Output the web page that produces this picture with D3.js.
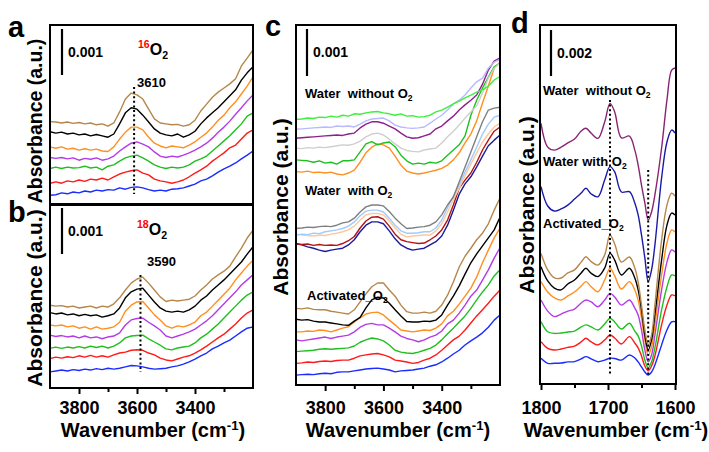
<!DOCTYPE html>
<html><head><meta charset="utf-8">
<script src="https://cdn.jsdelivr.net/npm/d3@7"></script>
<style>body{margin:0;background:#fff} svg{display:block} text{font-family:"Liberation Sans",Arial,Helvetica,sans-serif;font-weight:bold}</style>
</head><body><svg id="fig" width="709" height="452"></svg>
<script>
// ---------- DATA (absorbance in units of 1e-4; scale bars = 0.001 / 0.002) ----------
const wnOH = [3900,3880,3860,3840,3820,3800,3780,3760,3740,3720,3700,3680,3660,3640,3620,3600,3580,3560,3540,3520,3500,3480,3460,3440,3420,3400,3380,3360,3340,3320,3300,3280,3260,3240,3220,3200];
const wnD = [1800,1790,1780,1770,1760,1750,1740,1733,1725,1715,1705,1697,1690,1680,1668,1660,1655,1650,1645,1640,1635,1630,1620,1612,1605,1600];
const ticksOHMajor = [3800,3600,3400];
const ticksOHMinor = [3700,3500,3300];
const ticksDMajor = [1800,1700,1600];
const ticksDMinor = [1750,1650];

// panel a (16O2)
const a_brown  = [17.7,17.6,17.4,17.6,17.3,17.5,17.2,17.4,17.0,17.2,16.7,17.4,19.8,22.6,23.9,23.5,22.6,20.4,18.3,17.4,17.2,17.0,17.1,16.7,17.0,18.0,20.0,21.5,23.0,24.1,25.0,25.9,27.0,29.8,31.5,33.3];
const a_black  = [15.5,15.2,15.4,15.0,15.2,14.8,15.0,14.6,14.9,14.6,14.3,15.0,17.2,19.6,20.7,20.4,19.1,17.6,16.1,15.2,14.8,14.6,15.0,14.3,14.8,15.6,17.2,18.5,19.6,20.7,22.0,23.3,24.6,26.7,28.3,29.6];
const a_orange = [12.2,11.9,12.2,11.7,11.9,11.5,11.8,11.5,11.7,11.3,11.2,12.2,13.9,15.4,16.5,16.5,15.9,14.3,13.0,12.4,12.0,12.4,12.2,12.0,12.6,13.3,14.3,15.2,16.5,18.0,19.1,20.7,22.0,23.7,25.4,27.4];
const a_purple = [9.9,9.7,9.9,9.6,9.8,9.3,9.7,9.5,9.8,9.3,9.6,10.2,11.3,12.2,13.0,13.3,12.8,12.2,11.1,10.2,9.9,10.2,10.0,10.4,10.9,11.5,12.2,13.0,14.1,15.4,16.5,17.8,19.3,20.7,22.2,23.5];
const a_green  = [7.5,7.8,7.5,7.8,7.6,7.7,8.0,7.6,7.8,7.2,8.0,8.3,9.1,9.8,10.2,10.4,9.8,9.1,8.3,7.8,7.5,7.8,7.6,7.8,8.3,9.1,9.6,10.2,11.3,12.4,13.5,14.6,15.9,17.2,18.9,19.6];
const a_red    = [4.3,4.6,4.3,4.8,4.6,5.0,4.7,5.2,5.0,5.4,5.0,5.7,6.3,6.7,7.0,7.2,6.5,6.1,5.2,4.8,4.6,4.3,4.6,5.0,5.7,6.5,7.2,8.0,9.1,10.0,10.9,12.0,12.6,13.9,15.2,15.9];
const a_blue   = [1.7,1.8,2.2,2.0,2.4,2.2,2.6,2.4,2.8,2.6,2.9,2.8,3.3,3.0,3.4,3.5,3.3,2.9,2.6,2.8,2.6,3.0,3.1,3.3,3.7,4.1,4.8,5.2,5.9,6.7,7.4,8.0,8.7,9.6,10.4,11.3];
// panel b (18O2)
const b_brown  = [18.0,17.8,17.9,17.6,17.8,17.4,17.6,17.8,17.4,17.8,17.6,18.3,19.6,21.3,22.8,23.7,24.1,22.8,21.3,19.8,18.8,19.1,18.9,19.1,19.3,20.0,21.3,22.4,23.7,24.6,25.4,26.5,28.5,30.4,32.6,34.3];
const b_black  = [16.4,16.1,16.3,15.9,16.1,15.7,16.0,15.7,15.9,15.4,15.7,16.1,17.4,19.6,20.9,21.5,21.7,20.2,18.7,17.4,16.7,16.5,16.7,16.5,17.0,17.8,19.1,20.0,21.3,22.4,23.5,24.8,26.1,27.4,29.1,30.7];
const b_orange = [13.7,13.5,13.7,13.3,13.5,13.0,13.3,12.8,13.3,12.8,13.0,13.3,14.3,16.7,18.0,18.7,18.8,17.4,15.9,14.8,13.5,13.0,13.5,13.3,13.7,14.3,15.7,16.5,17.8,19.1,20.4,21.7,23.5,25.0,26.5,27.8];
const b_purple = [11.5,11.2,11.4,11.1,11.3,10.9,11.3,10.9,11.1,10.7,11.1,11.3,12.0,13.7,14.8,15.1,15.2,14.3,13.5,12.6,11.3,10.9,11.3,11.7,12.2,12.8,13.7,14.6,15.7,17.0,18.3,19.6,20.9,22.4,23.5,24.6];
const b_green  = [8.6,8.9,8.6,8.9,8.7,9.0,8.7,9.1,8.8,9.1,8.7,9.1,9.8,10.9,11.3,11.4,11.5,10.7,10.0,9.3,8.5,8.3,8.7,8.9,9.1,9.8,10.9,11.7,12.8,13.9,15.2,16.5,17.8,19.1,20.2,20.9];
const b_red    = [6.4,6.7,6.5,6.8,6.6,7.0,6.7,7.1,6.7,7.0,6.7,7.2,7.6,7.8,8.2,8.3,8.2,7.6,7.2,6.5,6.1,5.9,6.3,6.7,7.0,7.6,8.3,9.1,10.0,10.9,11.7,12.8,13.9,15.2,16.3,17.0];
const b_blue   = [3.5,3.7,3.9,3.7,4.0,3.8,4.1,3.9,4.2,4.0,4.3,4.1,4.3,4.6,4.9,4.8,4.6,4.3,4.1,4.2,4.3,4.6,4.8,5.2,5.7,6.3,7.0,7.6,8.5,9.1,9.8,10.4,11.3,12.2,13.0,13.3];
// panel c: water without O2
const c_lime     = [56.5,56.6,56.8,56.7,57.0,56.9,57.2,57.0,57.4,57.2,57.7,57.6,57.9,58.1,58.2,57.9,57.7,57.4,57.7,57.2,57.3,57.0,57.1,57.4,58.1,58.5,59.1,59.8,60.4,61.1,61.7,62.3,62.8,63.6,64.9,65.6];
const c_lavender = [54.4,54.5,54.6,54.7,54.8,54.9,54.8,55.1,55.0,55.1,54.9,55.5,56.2,56.6,56.7,56.8,56.2,55.3,54.9,54.7,54.6,54.7,54.9,55.7,56.6,57.4,58.5,59.8,60.6,61.7,63.2,64.5,65.3,67.4,68.7,69.3];
const c_purple   = [52.5,52.6,52.7,52.8,52.9,53.0,53.1,53.2,53.1,53.4,53.6,54.7,55.5,56.0,56.0,55.7,55.1,54.5,53.6,52.8,52.5,52.6,53.0,53.4,54.5,55.1,56.2,57.2,58.5,59.6,60.6,61.7,64.0,67.0,68.9,69.6];
const c_lgray    = [50.4,50.3,50.5,50.4,50.6,50.5,50.7,50.9,51.1,51.0,51.3,51.9,52.8,53.4,53.6,53.2,52.3,51.3,50.4,49.9,49.7,49.6,50.0,50.2,50.4,51.5,52.8,54.0,55.3,56.8,58.1,59.4,62.1,65.3,67.4,68.5];
const c_green    = [47.9,47.8,47.7,47.4,47.7,47.2,47.4,47.0,47.7,47.7,47.9,49.6,51.3,51.8,51.1,51.5,51.7,50.7,48.9,47.7,47.0,47.2,47.0,47.4,47.2,47.7,48.9,50.0,51.1,53.0,57.4,60.6,63.2,65.5,67.7,68.5];
const c_orange   = [45.4,45.3,45.5,45.2,45.3,45.1,45.3,44.9,44.7,45.1,45.7,47.4,49.4,50.6,51.3,51.1,50.4,48.7,46.8,45.5,45.1,44.9,45.1,45.4,45.7,46.1,46.8,47.9,49.4,51.5,53.4,56.2,60.0,63.6,67.4,68.7];
// panel c: water with O2
const c_dgray = [33.3,33.4,33.6,33.5,33.7,33.8,33.7,34.0,34.5,34.7,35.5,36.8,37.9,38.3,38.3,38.1,36.9,35.5,34.3,33.3,33.4,33.6,33.7,34.0,34.7,36.2,38.3,40.0,43.2,46.4,49.6,52.8,56.0,58.5,58.9,59.1];
const c_lblue = [31.9,32.1,32.0,32.3,32.2,32.6,32.8,33.0,33.3,33.8,34.7,36.0,37.0,37.2,37.2,36.8,35.5,34.0,32.8,32.3,32.3,32.4,32.6,32.6,33.4,35.1,37.7,40.2,42.6,45.3,47.9,50.6,53.4,55.5,57.0,57.4];
const c_peach = [32.1,31.9,31.8,31.7,31.9,31.8,32.1,32.3,32.6,33.0,33.8,35.1,36.2,36.5,36.5,36.2,34.9,33.4,32.1,31.5,31.7,31.8,31.9,31.9,32.8,34.3,36.8,39.4,41.9,44.5,47.0,49.4,51.7,53.4,54.9,55.7];
const c_dred  = [30.0,29.9,30.0,29.7,29.9,29.7,29.8,29.7,30.1,30.7,31.6,33.4,34.9,35.7,35.8,35.3,33.8,32.1,30.9,30.5,30.3,30.1,30.2,30.9,31.7,33.0,35.1,38.3,41.9,43.6,45.1,47.4,50.0,52.1,54.0,54.9];
const c_navy  = [30.1,29.8,29.4,29.1,28.7,28.4,28.7,28.9,29.1,29.8,30.9,32.6,34.0,34.7,34.7,34.3,32.8,31.1,29.8,29.1,28.7,28.9,29.1,29.8,30.5,31.7,34.0,37.2,40.6,42.8,44.3,46.4,48.7,50.9,52.1,53.2];
// panel c: activated O2
const c_brown  = [16.3,16.2,16.4,16.1,16.0,16.0,15.7,15.5,15.3,15.1,16.0,17.7,19.4,20.9,21.7,21.7,20.2,18.9,17.0,15.6,15.3,15.3,15.5,15.3,15.7,17.0,19.1,21.9,25.1,27.4,29.1,30.9,32.3,34.3,37.2,39.8];
const c_black  = [14.0,13.8,13.9,13.6,13.4,13.4,13.2,13.0,12.8,12.7,13.6,14.4,16.4,18.1,18.7,18.5,17.4,16.0,14.7,13.5,13.4,13.4,13.6,13.5,13.8,14.9,17.0,18.9,21.1,23.6,26.0,27.9,29.6,31.3,33.0,35.7];
const c_orange2= [11.3,11.3,11.5,11.4,11.7,11.6,11.3,11.7,12.1,12.4,13.4,14.3,15.1,15.4,15.5,14.9,13.8,12.8,11.7,11.5,11.3,11.5,11.7,11.6,12.1,13.0,14.7,15.7,17.2,18.9,20.6,23.0,26.0,28.7,31.3,33.4];
const c_purple2= [9.6,9.4,9.6,9.8,10.0,10.2,9.9,10.2,10.4,10.6,11.3,12.3,12.9,13.1,12.8,12.8,12.1,11.3,10.4,9.9,9.6,9.2,9.6,10.2,10.6,11.5,13.0,13.8,15.3,17.0,18.9,20.2,22.3,24.5,27.0,29.2];
const c_green2 = [7.1,7.2,7.3,7.4,7.6,7.7,7.6,7.7,7.8,7.9,8.3,9.1,9.6,10.0,9.8,9.4,8.5,7.4,7.0,6.8,6.7,7.0,7.4,7.8,8.5,9.6,10.9,12.1,13.4,14.7,16.3,18.1,19.8,21.3,23.2,24.5];
const c_red    = [4.6,4.7,4.9,4.8,5.0,5.1,5.0,5.2,5.3,5.3,5.7,6.2,6.4,6.6,6.7,6.4,6.0,5.3,5.1,4.9,4.6,4.8,5.3,5.7,6.4,7.4,8.5,9.6,10.4,11.7,13.2,14.7,16.0,17.4,18.9,20.2];
const c_blue   = [2.1,2.2,2.3,2.2,2.4,2.5,2.4,2.7,2.8,2.8,3.0,3.2,3.4,3.5,3.6,3.4,3.2,2.8,3.0,3.1,3.2,3.4,3.6,4.0,4.3,4.9,5.7,6.6,7.4,8.5,9.4,10.2,11.1,12.3,13.8,14.9];
// panel d
const d_woO2   = [113.3,103.0,101.7,103.0,104.8,106.5,110.0,111.2,109.0,106.8,113.9,122.0,118.3,107.0,107.8,101.7,95.2,86.5,78.7,71.3,74.8,82.2,102.6,123.5,136.5,137.4];
const d_wO2    = [85.8,77.4,75.2,76.1,77.8,80.4,83.0,85.1,82.6,81.4,88.7,94.5,92.2,83.5,83.6,78.7,73.5,64.8,54.8,44.5,49.6,60.4,89.6,105.2,110.4,109.1];
const d_brown  = [56.8,49.6,46.1,46.1,48.3,49.6,53.0,55.3,53.2,51.7,56.1,64.8,60.9,53.0,55.2,50.4,44.3,34.3,23.5,17.0,21.3,34.3,62.6,77.8,83.0,81.7];
const d_black  = [51.0,44.8,41.7,40.9,43.5,45.2,48.3,50.3,48.1,46.7,50.4,56.8,53.9,47.4,50.3,46.1,40.9,32.2,21.3,14.8,19.1,30.0,53.9,69.1,74.3,73.5];
const d_orange = [44.5,40.0,37.4,36.5,38.3,40.0,42.6,44.5,42.3,40.1,45.2,50.3,47.0,41.3,44.5,40.9,36.5,28.7,19.1,12.6,16.1,25.7,47.4,61.3,67.0,66.1];
const d_purple = [36.5,31.7,29.3,30.4,31.7,32.6,35.2,36.5,35.7,33.6,36.5,39.4,37.8,34.3,36.5,33.0,30.0,23.5,14.8,9.6,12.6,21.3,40.9,53.0,58.3,57.4];
const d_green  = [27.1,22.7,22.0,22.2,22.6,23.0,24.8,25.7,24.8,23.5,26.1,28.6,27.0,23.9,26.4,23.0,20.9,16.5,10.4,7.0,9.6,15.7,32.2,42.2,47.4,47.0];
const d_red    = [18.4,15.5,14.8,15.2,15.9,16.5,18.3,19.9,18.3,17.0,19.1,21.3,20.0,17.4,20.6,17.8,15.7,12.2,7.8,5.7,7.8,12.2,25.7,34.3,38.7,38.3];
const d_blue   = [11.2,9.0,9.0,9.1,9.6,9.7,10.9,11.9,10.9,9.7,10.4,11.2,11.1,10.4,12.6,11.3,9.6,7.4,5.2,3.9,5.2,8.3,17.0,23.5,27.0,27.1];

// ---------- STYLES ----------
const C = {brown:'#b5874a', black:'#000000', orange:'#ff8f1f', violet:'#b43ce6', green:'#1fbf1f', red:'#ff1a1a', blue:'#1a2cff',
  lime:'#3cf03c', lavender:'#b9b9ff', plum:'#8e1f8e', lgray:'#cfcfcf', dgray:'#7f7f7f', lblue:'#9fcbff', peach:'#ffc89a',
  dred:'#b01515', navy:'#1a1a9c', dplum:'#8a2472', dnavy:'#1a1aa8'};

const svg = d3.select('#fig');

function frame(x0,y0,x1,y1){
  svg.append('rect').attr('x',x0).attr('y',y0).attr('width',x1-x0).attr('height',y1-y0)
    .attr('fill','none').attr('stroke','#000').attr('stroke-width',2);
}
function drawSeries(x, y, wn, list, curve){
  const line = d3.line().x((d,i)=>x(wn[i])).y(d=>y(d)).curve(curve||d3.curveLinear);
  list.forEach(([vals,col])=>{
    svg.append('path').attr('d',line(vals)).attr('fill','none').attr('stroke',col)
      .attr('stroke-width',1.4).attr('stroke-linejoin','round');
  });
}
function xAxis(x, yb, majors, minors){
  const g = svg.append('g').attr('transform',`translate(0,${yb})`)
    .call(d3.axisBottom(x).tickValues(majors).tickSize(6).tickFormat(d=>d));
  g.select('.domain').remove();
  g.selectAll('line').attr('stroke-width',2);
  g.selectAll('text').attr('font-size',18).attr('font-weight','bold').attr('fill','#000')
    .attr('font-family','"Liberation Sans",Arial,sans-serif').attr('dy',null).attr('y',414-yb);
  const g2 = svg.append('g').attr('transform',`translate(0,${yb})`)
    .call(d3.axisBottom(x).tickValues(minors).tickSize(4).tickFormat(''));
  g2.select('.domain').remove();
  g2.selectAll('line').attr('stroke-width',2);
}
function rich(x, y, parts, size, anchor, rotate, supK){
  const t = svg.append('text').attr('x',x).attr('y',y).attr('font-size',size).attr('text-anchor',anchor||'start');
  if(rotate) t.attr('transform',`rotate(-90,${x},${y})`);
  let shift = 0;
  const sk = supK || 0.45;
  parts.forEach(p=>{
    const s = p.sup ? -sk*size : p.sub ? 0.25*size : 0;
    const ts = t.append('tspan').text(p.t).attr('dy', s - shift);
    shift = s;
    if(p.sup||p.sub) ts.attr('font-size', size*0.66);
    if(p.c) ts.attr('fill', p.c);
  });
  return t;
}
function wavTitle(cx){
  rich(cx, 437, [{t:'Wavenumber (cm'},{t:'-1',sup:true},{t:')'}], 20, 'middle', false, 0.36);
}
function absTitle(cx, cy, size){
  rich(cx, cy, [{t:'Absorbance (a.u.)'}], size, 'middle', true);
}
function scaleBar(xp, ytop, y, val, label){
  const len = y(0) - y(val);
  svg.append('line').attr('x1',xp).attr('x2',xp).attr('y1',ytop).attr('y2',ytop+len).attr('stroke','#000').attr('stroke-width',2.2);
  svg.append('text').attr('x',xp+6).attr('y',ytop+28).attr('font-size',14).text(label);
}
function dotted(x1,y1,y2){
  svg.append('line').attr('x1',x1).attr('x2',x1).attr('y1',y1).attr('y2',y2)
    .attr('stroke','#000').attr('stroke-width',2).attr('stroke-dasharray','2,2.6');
}
function label(x,y,t){ svg.append('text').attr('x',x).attr('y',y).attr('font-size',29).text(t); }

// ---------- PANEL a ----------
const xa = d3.scaleLinear().domain([3900,3200]).range([50,253]);
const ya = d3.scaleLinear().domain([0,10]).range([203,157]);
drawSeries(xa, ya, wnOH, [[a_blue,C.blue],[a_red,C.red],[a_green,C.green],[a_purple,C.violet],[a_orange,C.orange],[a_black,C.black],[a_brown,C.brown]]);
frame(50,25,253,204);
dotted(xa(3610),87,194);
svg.append('text').attr('x',137).attr('y',87).attr('font-size',13).text('3610');
scaleBar(62,29,ya,10,'0.001');
rich(138,55,[{t:'16',sup:true,c:'#ff0000'},{t:'O'},{t:'2',sub:true}],16);
absTitle(42,121,19.5);
label(8,37,'a');

// ---------- PANEL b ----------
const xb = d3.scaleLinear().domain([3900,3200]).range([50,253]);
const yb = d3.scaleLinear().domain([0,10]).range([388,342]);
drawSeries(xb, yb, wnOH, [[b_blue,C.blue],[b_red,C.red],[b_green,C.green],[b_purple,C.violet],[b_orange,C.orange],[b_black,C.black],[b_brown,C.brown]]);
frame(50,205,253,388);
dotted(xb(3588),275,372);
svg.append('text').attr('x',147).attr('y',266).attr('font-size',13).text('3590');
scaleBar(62,208,yb,10,'0.001');
rich(137,235,[{t:'18',sup:true,c:'#ff0000'},{t:'O'},{t:'2',sub:true}],16);
xAxis(xb,388,ticksOHMajor,ticksOHMinor);
absTitle(42,298,21);
wavTitle(153);
label(8,222,'b');

// ---------- PANEL c ----------
const xc = d3.scaleLinear().domain([3900,3200]).range([296,500]);
const yc = d3.scaleLinear().domain([0,10]).range([385,338]);
drawSeries(xc, yc, wnOH, [
  [c_orange,C.orange],[c_green,C.green],[c_lgray,C.lgray],[c_purple,C.plum],[c_lavender,C.lavender],[c_lime,C.lime],
  [c_navy,C.navy],[c_dred,C.dred],[c_peach,C.peach],[c_lblue,C.lblue],[c_dgray,C.dgray],
  [c_blue,C.blue],[c_red,C.red],[c_green2,C.green],[c_purple2,C.violet],[c_orange2,C.orange],[c_black,C.black],[c_brown,C.brown]]);
frame(296,25,500,385);
scaleBar(307,29,yc,10,'0.001');
rich(305,98,[{t:'Water\u00a0\u00a0without O'},{t:'2',sub:true}],13);
rich(305,195,[{t:'Water\u00a0\u00a0with O'},{t:'2',sub:true}],13);
rich(307,300,[{t:'Activated_O'},{t:'2',sub:true}],13);
xAxis(xc,385,ticksOHMajor,ticksOHMinor);
absTitle(288,207,21);
wavTitle(398);
label(265,36,'c');

// ---------- PANEL d ----------
const xd = d3.scaleLinear().domain([1801.5,1598.5]).range([540,676]);
const yd = d3.scaleLinear().domain([0,20]).range([384,338]);
drawSeries(xd, yd, wnD, [[d_woO2,C.dplum],[d_wO2,C.dnavy],
  [d_blue,C.blue],[d_red,C.red],[d_green,C.green],[d_purple,C.violet],[d_orange,C.orange],[d_black,C.black],[d_brown,C.brown]],
  d3.curveCatmullRom.alpha(0.5));
frame(540,25,676,384);
dotted(xd(1697),100,376);
dotted(xd(1640),170,377);
scaleBar(551,30,yd,20,'0.002');
rich(543,95,[{t:'Water\u00a0\u00a0without O'},{t:'2',sub:true}],13);
rich(543,166,[{t:'Water with O'},{t:'2',sub:true}],13);
rich(543,228,[{t:'Activated_O'},{t:'2',sub:true}],13);
xAxis(xd,384,ticksDMajor,ticksDMinor);
absTitle(534,205,21);
wavTitle(616);
label(511,33,'d');
</script>
</body></html>
